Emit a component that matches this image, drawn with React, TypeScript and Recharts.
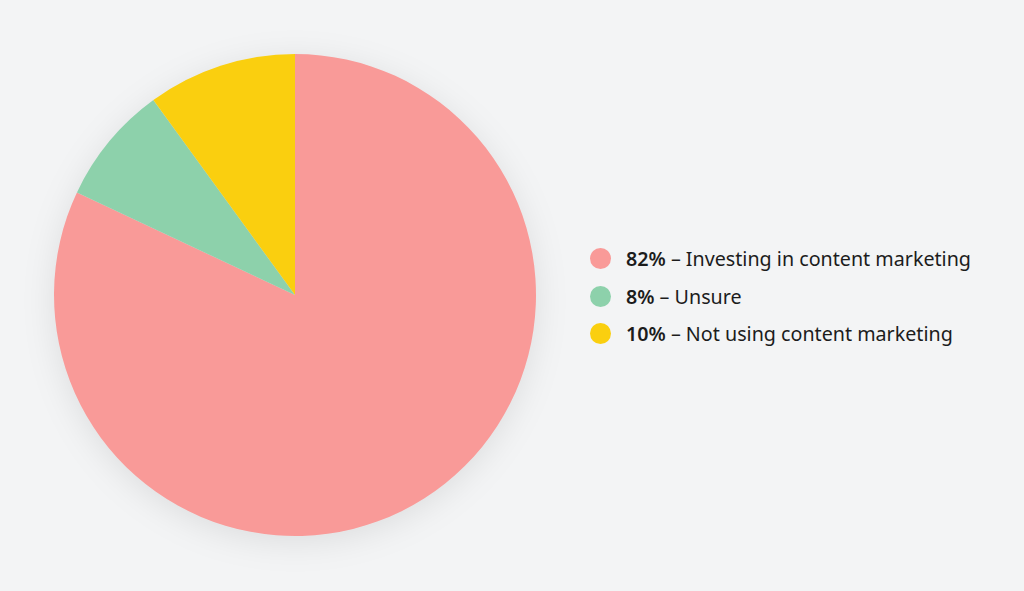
import { PieChart, Pie, Cell, Legend } from "recharts";

const labels = [
  "Investing in content marketing",
  "Unsure",
  "Not using content marketing",
];
const values = [82, 8, 10];
const COLORS = [
  "#F99A98", // pink
  "#8DD1AB", // green
  "#FACF0F", // yellow
];

const data = labels.map((name, i) => ({ name, value: values[i] }));

function LegendList() {
  return (
    <div style={{ fontFamily: "'Noto Sans', 'Open Sans', sans-serif" }}>
      {data.map((d, i) => (
        <div
          key={d.name}
          style={{
            display: "flex",
            alignItems: "center",
            height: 37.5,
            fontSize: 19.7,
            color: "#1c1c1c",
          }}
        >
          <span
            style={{
              display: "inline-block",
              width: 21,
              height: 21,
              borderRadius: "50%",
              background: COLORS[i],
              marginRight: 15,
            }}
          />
          <span style={{ fontWeight: 600 }}>{d.value}%</span>
          <span>&nbsp;– {d.name}</span>
        </div>
      ))}
    </div>
  );
}

export default function App() {
  return (
    <div
      style={{
        position: "absolute",
        left: 0,
        top: 0,
        width: 1024,
        height: 591,
        background: "#F3F4F5",
      }}
    >
      {/* shadow on the whole svg so slices don't shade each other */}
      <style>{`.recharts-surface { filter: drop-shadow(0px 6px 16px rgba(0,0,0,0.09)); }`}</style>
      <PieChart width={1024} height={591} margin={{ top: 0, right: 0, bottom: 0, left: 0 }}>
        <Pie
          data={data}
          dataKey="value"
          cx={295}
          cy={295}
          outerRadius={241}
          startAngle={90}
          endAngle={-270}
          stroke="none"
          isAnimationActive={false}
        >
          {data.map((_, i) => (
            <Cell key={`cell-${i}`} fill={COLORS[i]} />
          ))}
        </Pie>
        <Legend
          layout="vertical"
          content={() => <LegendList />}
          wrapperStyle={{ left: 590, top: 240, width: 430 }}
        />
      </PieChart>
    </div>
  );
}
